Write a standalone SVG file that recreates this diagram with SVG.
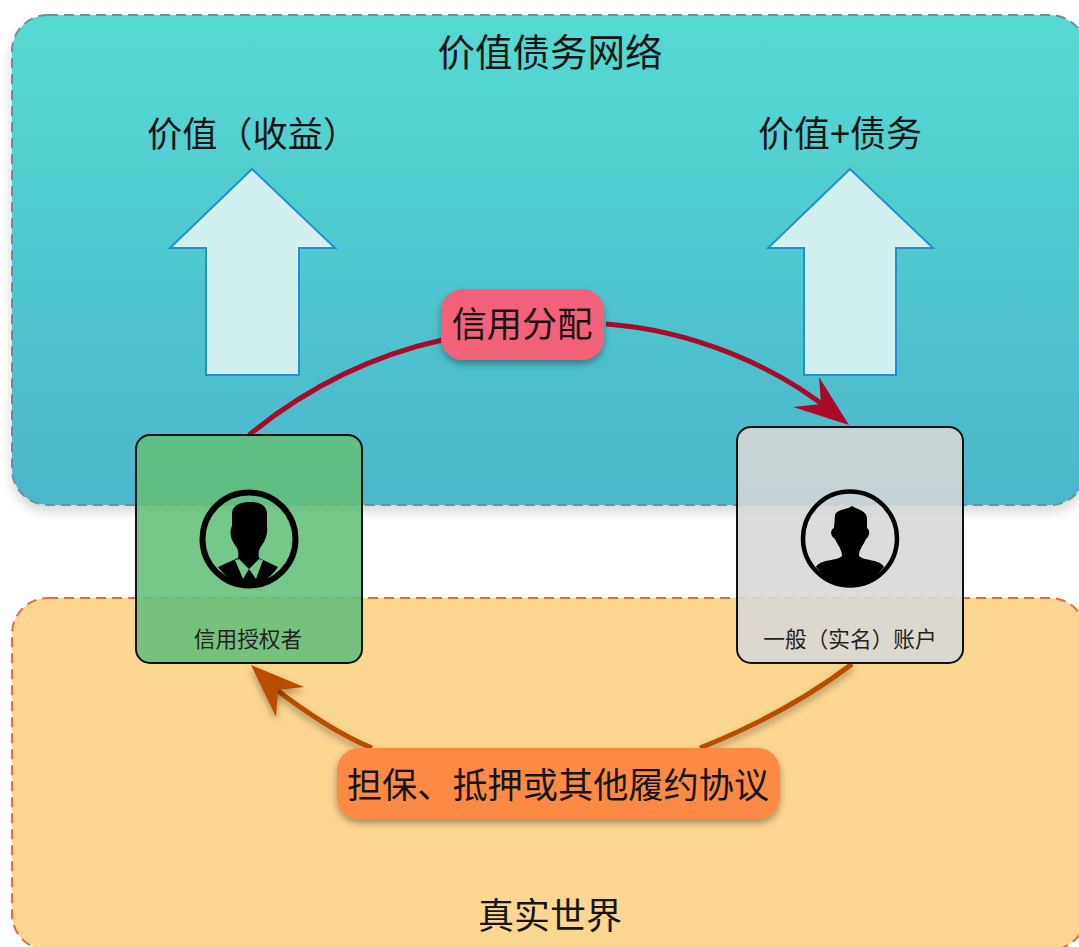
<svg xmlns="http://www.w3.org/2000/svg" width="1079" height="947" viewBox="0 0 1079 947">
<style>
text{font-family:"Noto Sans CJK SC","Liberation Sans",sans-serif;fill:#151515;text-anchor:middle}
.t37{font-size:37.5px}.t36{font-size:36px}.t35{font-size:35.2px}.t22{font-size:21.7px;fill:#222}
.arrow{fill:#d3f0f1;stroke:#2290d6;stroke-width:2}
.card{stroke:#111;stroke-width:2}
.ring{fill:none;stroke:#000}
.sil{fill:#000}
</style>
<defs>
<linearGradient id="g" x1="0" y1="0" x2="0" y2="1"><stop offset="0" stop-color="#54dad2"/><stop offset="1" stop-color="#4cb6cc"/></linearGradient>
<filter id="sh" x="-10%" y="-10%" width="120%" height="125%"><feDropShadow dx="0" dy="4" stdDeviation="3.5" flood-color="#000" flood-opacity=".35"/></filter>
<filter id="sh2" x="-10%" y="-10%" width="120%" height="125%"><feDropShadow dx="0" dy="6" stdDeviation="6" flood-color="#000" flood-opacity=".16"/></filter>
</defs>
<g id="band-top">
<rect x="12" y="15" width="1074" height="490" rx="36" fill="url(#g)" stroke="#6b9297" stroke-width="2" stroke-dasharray="10 6" filter="url(#sh2)"/>
<text class="t37" x="550" y="66">价值债务网络</text>
<text class="t35" x="147" y="147" style="text-anchor:start">价值（收益）</text>
<text class="t36" x="840" y="147">价值+债务</text>
</g>
<g id="band-bottom">
<rect x="12" y="598" width="1074" height="352" rx="36" fill="#fbd690" stroke="#e96a3c" stroke-width="2" stroke-dasharray="10 6"/>
<text class="t36" x="550" y="929">真实世界</text>
</g>
<g id="arrow-left"><path class="arrow" d="M252 169L335 248H299V375H206V248H170Z"/></g>
<g id="arrow-right"><path class="arrow" d="M850 169L933 248H896V375H804V248H768Z"/></g>
<g id="connectors">
<path d="M249 435C310 385 375 355 442 340" fill="none" stroke="#a90a2a" stroke-width="5"/>
<path d="M606 324C690 330 775 365 832 412" fill="none" stroke="#a90a2a" stroke-width="5"/>
<path d="M849 425L793 407L821 404L819 377Z" fill="#a90a2a"/>
<path d="M852 664C805 700 750 728 700 748" fill="none" stroke="#b84d04" stroke-width="5" filter="url(#sh)"/>
<path d="M372 748C340 735 305 712 270 685" fill="none" stroke="#b84d04" stroke-width="5" filter="url(#sh)"/>
<path d="M251 665L304 687L278 690L276 717Z" fill="#b84d04" filter="url(#sh)"/>
</g>
<g id="node-left">
<rect class="card" x="136" y="435" width="226" height="228" rx="14" fill="#63bf7a" fill-opacity=".88"/>
<circle class="ring" cx="249" cy="539" r="46.5" stroke-width="6"/>
<path class="sil" d="M232 514C232 505 241 502 250 502C259 502 267 505 267 514V526C268 532 266 540 262 545C259 549 258 552 259 558L278 567C270 579 260 585 249 585C238 585 227 579 218 567L238 558C239 552 238 549 235 545C231 540 229 532 232 526Z"/>
<path d="M235 560L239 559L249 569L243 579ZM263 560L259 559L249 569L256 579Z" fill="#76c78a"/>
<text class="t22" x="248" y="647">信用授权者</text>
</g>
<g id="node-right">
<rect class="card" x="737" y="427" width="226" height="236" rx="14" fill="#d7d7d7" fill-opacity=".88"/>
<circle class="ring" cx="850" cy="538.5" r="47" stroke-width="4.5"/>
<path class="sil" d="M835 515C837 509 846 510 852 506C858 510 866 510 867 518V528C870 530 870 536 866 539C863 546 859 549 859 556C864 561 880 559 884 567C874 580 862 586 850 586C838 586 826 580 816 567C820 559 838 561 842 556C842 549 838 546 835 539C830 536 830 530 834 528Z"/>
<text class="t22" x="850" y="647">一般（实名）账户</text>
</g>
<g id="node-credit">
<rect x="441" y="289" width="163" height="71" rx="22" fill="#f2607a" filter="url(#sh)"/>
<text class="t35" x="522" y="337">信用分配</text>
</g>
<g id="node-guarantee">
<rect x="337" y="748" width="443" height="71" rx="22" fill="#fc8a45" filter="url(#sh)"/>
<text class="t35" x="558" y="798">担保、抵押或其他履约协议</text>
</g>
</svg>
